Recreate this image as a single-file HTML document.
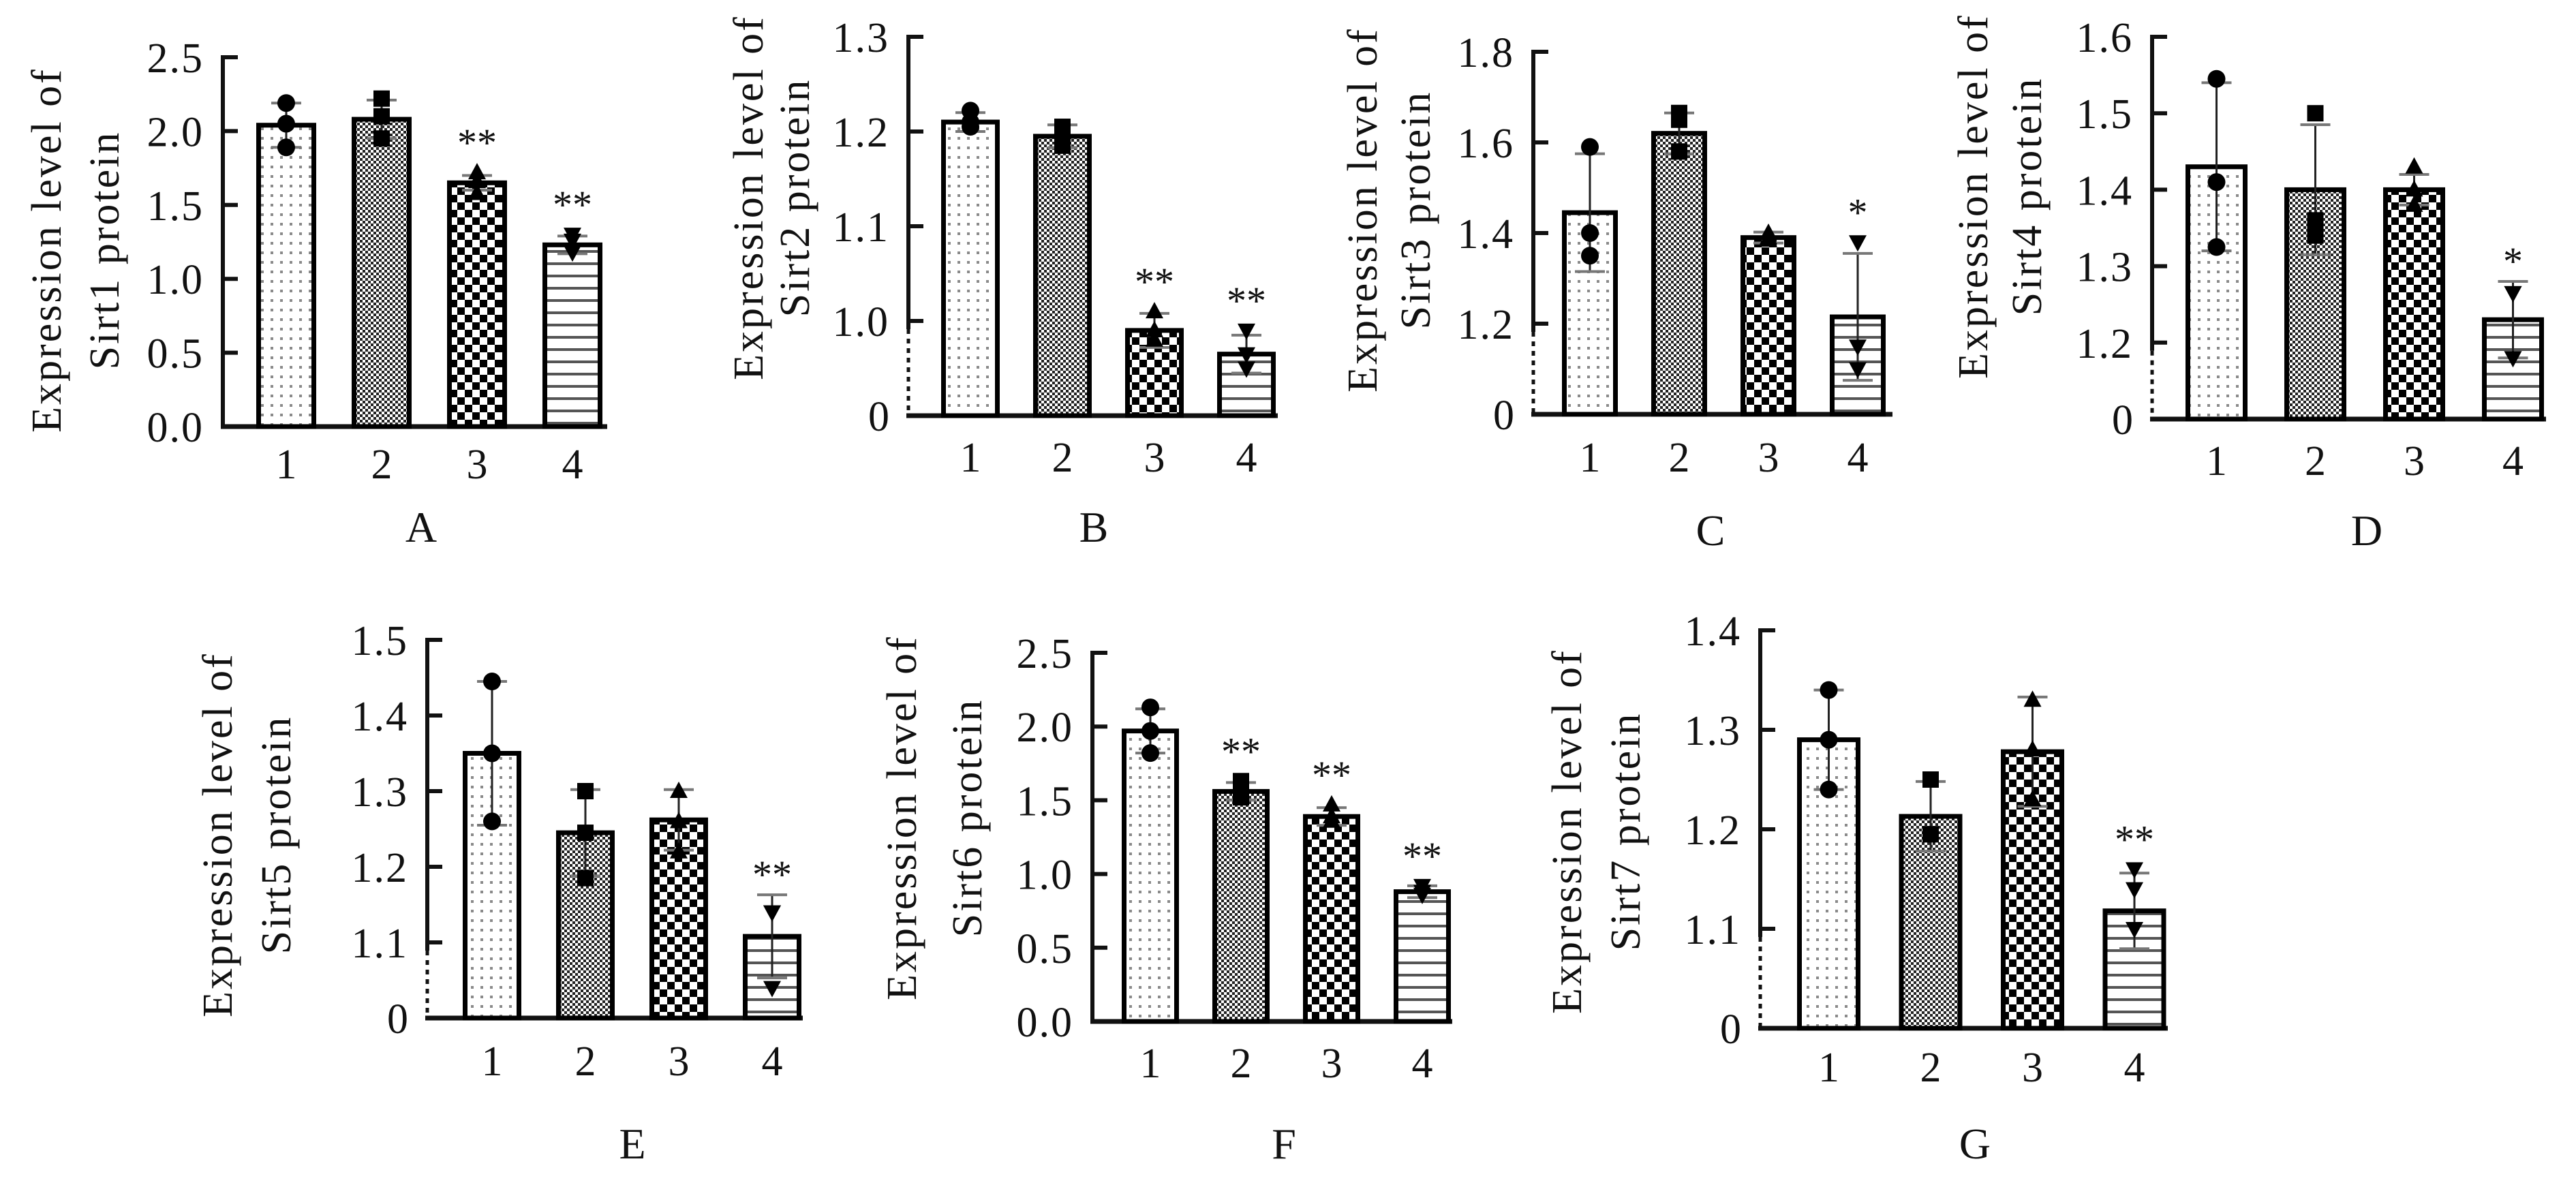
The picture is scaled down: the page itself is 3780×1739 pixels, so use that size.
<!DOCTYPE html>
<html><head><meta charset="utf-8"><style>
html,body{margin:0;padding:0;background:#fff;}
svg{display:block;}
text{font-family:"Liberation Serif",serif;fill:#111;}
</style></head><body>
<svg id="fig" width="3780" height="1739" viewBox="0 0 3780 1739" xmlns="http://www.w3.org/2000/svg">
<defs>
<pattern id="pat1" patternUnits="userSpaceOnUse" width="14" height="14"><rect width="14" height="14" fill="#fff"/><rect x="5" y="5" width="4" height="4" fill="#8a8a8a"/></pattern>
<pattern id="pat2" patternUnits="userSpaceOnUse" width="8" height="8"><rect width="8" height="8" fill="#fff"/><rect width="4" height="4" fill="#222"/><rect x="4" y="4" width="4" height="4" fill="#222"/></pattern>
<pattern id="pat3" patternUnits="userSpaceOnUse" width="22" height="22"><rect width="22" height="22" fill="#fff"/><rect width="11" height="11" fill="#000"/><rect x="11" y="11" width="11" height="11" fill="#000"/></pattern>
<pattern id="pat4" patternUnits="userSpaceOnUse" width="18" height="18"><rect width="18" height="18" fill="#fff"/><rect y="7" width="18" height="4" fill="#555"/></pattern>
</defs>
</svg>
<script>
// ---- data (one small set of arrays per panel) ----
const categories = ["1","2","3","4"];
const panelLetters = ["A","B","C","D","E","F","G"];
const proteins = ["Sirt1","Sirt2","Sirt3","Sirt4","Sirt5","Sirt6","Sirt7"];

const meansA = [2.04, 2.08, 1.65, 1.23];
const sdA = [0.15, 0.13, 0.05, 0.06];
const pointsA = [[2.19, 2.05, 1.89], [2.22, 2.10, 1.95], [1.72, 1.66, 1.58], [1.30, 1.26, 1.18]];
const sigA = ["", "", "**", "**"];
const ticksA = [0, 0.5, 1.0, 1.5, 2.0, 2.5];
const tickLabelsA = ["0.0", "0.5", "1.0", "1.5", "2.0", "2.5"];

const meansB = [1.21, 1.195, 0.99, 0.965];
const sdB = [0.01, 0.012, 0.018, 0.02];
const pointsB = [[1.222, 1.21, 1.205], [1.205, 1.19, 1.185], [1.01, 0.99, 0.98], [0.99, 0.965, 0.95]];
const sigB = ["", "", "**", "**"];
const ticksB = [1.0, 1.1, 1.2, 1.3];
const tickLabelsB = ["1.0", "1.1", "1.2", "1.3"];

const meansC = [1.445, 1.62, 1.39, 1.215];
const sdC = [0.13, 0.045, 0.012, 0.14];
const pointsC = [[1.59, 1.40, 1.35], [1.65, 1.665, 1.58], [1.40, 1.39, 1.385], [1.38, 1.15, 1.10]];
const sigC = ["", "", "", "*"];
const ticksC = [1.2, 1.4, 1.6, 1.8];
const tickLabelsC = ["1.2", "1.4", "1.6", "1.8"];

const meansD = [1.43, 1.40, 1.40, 1.23];
const sdD = [0.11, 0.085, 0.02, 0.05];
const pointsD = [[1.545, 1.41, 1.325], [1.50, 1.36, 1.34], [1.43, 1.40, 1.38], [1.265, 1.265, 1.18]];
const sigD = ["", "", "", "*"];
const ticksD = [1.2, 1.3, 1.4, 1.5, 1.6];
const tickLabelsD = ["1.2", "1.3", "1.4", "1.5", "1.6"];

const meansE = [1.35, 1.245, 1.262, 1.108];
const sdE = [0.095, 0.057, 0.04, 0.055];
const pointsE = [[1.445, 1.35, 1.26], [1.30, 1.245, 1.185], [1.30, 1.26, 1.22], [1.14, 1.14, 1.04]];
const sigE = ["", "", "", "**"];
const ticksE = [1.1, 1.2, 1.3, 1.4, 1.5];
const tickLabelsE = ["1.1", "1.2", "1.3", "1.4", "1.5"];

const meansF = [1.97, 1.56, 1.39, 0.88];
const sdF = [0.15, 0.06, 0.06, 0.04];
const pointsF = [[2.13, 1.97, 1.82], [1.63, 1.56, 1.52], [1.47, 1.39, 1.36], [0.92, 0.88, 0.86]];
const sigF = ["", "**", "**", "**"];
const ticksF = [0, 0.5, 1.0, 1.5, 2.0, 2.5];
const tickLabelsF = ["0.0", "0.5", "1.0", "1.5", "2.0", "2.5"];

const meansG = [1.29, 1.213, 1.278, 1.118];
const sdG = [0.05, 0.035, 0.055, 0.038];
const pointsG = [[1.34, 1.29, 1.24], [1.25, 1.195, 1.195], [1.33, 1.28, 1.23], [1.16, 1.14, 1.10]];
const sigG = ["", "", "", "**"];
const ticksG = [1.1, 1.2, 1.3, 1.4];
const tickLabelsG = ["1.1", "1.2", "1.3", "1.4"];

// ---- layout (pixel geometry, not data) ----
const layouts = [
 {axisX:327, base:626, top:84, lo:0, hi:2.5, brk:false, bar0:376, step:140, bw:88, end:891, lblY:702, letX:618, letY:795, t1:67, t2:152, tc:367},
 {axisX:1333, base:610, top:54, lo:0.9, hi:1.3, brk:true, bar0:1381, step:135, bw:86, end:1875, lblY:692, letX:1605, letY:795, t1:1097, t2:1165, tc:290},
 {axisX:2250, base:608, top:76, lo:1.0, hi:1.8, brk:true, bar0:2292, step:131, bw:82, end:2777, lblY:692, letX:2510, letY:800, t1:1998, t2:2076, tc:308},
 {axisX:3158, base:615, top:54, lo:1.1, hi:1.6, brk:true, bar0:3207, step:145, bw:91, end:3736, lblY:697, letX:3473, letY:800, t1:2894, t2:2973, tc:288},
 {axisX:627, base:1494, top:939, lo:1.0, hi:1.5, brk:true, bar0:679, step:137, bw:86, end:1178, lblY:1578, letX:928, letY:1700, t1:318, t2:404, tc:1225},
 {axisX:1603, base:1499, top:958, lo:0, hi:2.5, brk:false, bar0:1646, step:133, bw:84, end:2131, lblY:1581, letX:1884, letY:1700, t1:1322, t2:1418, tc:1200},
 {axisX:2583, base:1509, top:925, lo:1.0, hi:1.4, brk:true, bar0:2637, step:149.5, bw:93, end:3181, lblY:1587, letX:2898, letY:1700, t1:2298, t2:2384, tc:1220}
];
const allMeans = [meansA, meansB, meansC, meansD, meansE, meansF, meansG];
const allSd = [sdA, sdB, sdC, sdD, sdE, sdF, sdG];
const allPoints = [pointsA, pointsB, pointsC, pointsD, pointsE, pointsF, pointsG];
const allSig = [sigA, sigB, sigC, sigD, sigE, sigF, sigG];
const allTicks = [ticksA, ticksB, ticksC, ticksD, ticksE, ticksF, ticksG];
const allTickLabels = [tickLabelsA, tickLabelsB, tickLabelsC, tickLabelsD, tickLabelsE, tickLabelsF, tickLabelsG];
const fills = ["url(#pat1)", "url(#pat2)", "url(#pat3)", "url(#pat4)"];
const pointShapes = ["circle", "square", "up", "down"];

const NS = "http://www.w3.org/2000/svg";
const svg = document.getElementById("fig");
function mk(tag, attrs, parent) {
  const e = document.createElementNS(NS, tag);
  for (const k in attrs) e.setAttribute(k, attrs[k]);
  parent.appendChild(e);
  return e;
}

layouts.forEach((L, p) => {
  const g = mk("g", {}, svg);
  
  
  const yScale = v => L.base - (v - L.lo) / (L.hi - L.lo) * (L.base - L.top);
  const xCenter = i => L.bar0 + i * L.step + L.bw / 2;
  const ticks = allTicks[p], labels = allTickLabels[p];

  const axisTopY = L.top - 3;
  const solidBottom = L.brk ? yScale(ticks[0]) + 12 : L.base;
  const ax = mk("line", {x1:L.axisX, y1:axisTopY, x2:L.axisX, y2:solidBottom, stroke:"#111", "stroke-width":6}, g);
  
  
  if (L.brk) {
    const d = mk("line", {x1:L.axisX, y1:solidBottom, x2:L.axisX, y2:L.base, stroke:"#111", "stroke-width":5, "stroke-dasharray":"7 7"}, g);
    
    
    const z = mk("text", {x:L.axisX - 28, y:L.base + 22, "font-size":62, "text-anchor":"end"}, g);
    z.textContent = "0";
    
    
  }
  ticks.forEach((t, k) => {
    const y = yScale(t);
    const tm = mk("line", {x1:L.axisX, y1:y, x2:L.axisX + 22, y2:y, stroke:"#111", "stroke-width":6}, g);
    
    
    const tl = mk("text", {x:L.axisX - 28, y:y + 22, "font-size":62, "text-anchor":"end", "letter-spacing":2}, g);
    tl.textContent = labels[k];
    
    
  });
  const xa = mk("line", {x1:L.axisX - 3, y1:L.base, x2:L.end, y2:L.base, stroke:"#111", "stroke-width":7}, g);
  
  

  allMeans[p].forEach((m, i) => {
    const x = L.bar0 + i * L.step, y = yScale(m);
    const r = mk("rect", {x:x + 3.5, y:y, width:L.bw - 7, height:L.base - y, fill:fills[i], stroke:"#000", "stroke-width":7}, g);
    
    
    const cx = xCenter(i);
    const hiY = yScale(m + allSd[p][i]), loY = yScale(m - allSd[p][i]);
    const eb = mk("line", {x1:cx, y1:hiY, x2:cx, y2:Math.min(loY, L.base), stroke:"#222", "stroke-width":3}, g);
    
    
    [hiY, loY].forEach(cy => {
      if (cy > L.base) return;
      const c = mk("line", {x1:cx - 22, y1:cy, x2:cx + 22, y2:cy, stroke:"#777", "stroke-width":4}, g);
      
      
    });
    allPoints[p][i].forEach(v => {
      const py = yScale(v);
      let s;
      const sh = pointShapes[i];
      if (sh === "circle") s = mk("circle", {cx:cx, cy:py, r:13, fill:"#000"}, g);
      else if (sh === "square") s = mk("rect", {x:cx - 12, y:py - 12, width:24, height:24, fill:"#000"}, g);
      else if (sh === "up") s = mk("polygon", {points:`${cx},${py-14} ${cx-13},${py+10} ${cx+13},${py+10}`, fill:"#000"}, g);
      else s = mk("polygon", {points:`${cx},${py+14} ${cx-13},${py-10} ${cx+13},${py-10}`, fill:"#000"}, g);
      
      
    });
    const sig = allSig[p][i];
    if (sig) {
      const top = Math.min(hiY, yScale(Math.max(...allPoints[p][i])) - 14);
      const st = mk("text", {x:cx, y:top - 10, "font-size":58, "text-anchor":"middle"}, g);
      st.textContent = sig;
      
      
    }
    const xl = mk("text", {x:cx, y:L.lblY, "font-size":62, "text-anchor":"middle"}, g);
    xl.textContent = categories[i];
    
    
  });

  const t1 = mk("text", {x:0, y:0, "font-size":62, "letter-spacing":3, "text-anchor":"middle", transform:`translate(${L.t1 + 22},${L.tc}) rotate(-90)`}, g);
  t1.textContent = "Expression level of";
  
  
  const t2 = mk("text", {x:0, y:0, "font-size":62, "letter-spacing":3, "text-anchor":"middle", transform:`translate(${L.t2 + 22},${L.tc}) rotate(-90)`}, g);
  t2.textContent = proteins[p] + " protein";
  
  

  const let_ = mk("text", {x:L.letX, y:L.letY, "font-size":64, "text-anchor":"middle"}, g);
  let_.textContent = panelLetters[p];
  
  
});
</script>
</body></html>
